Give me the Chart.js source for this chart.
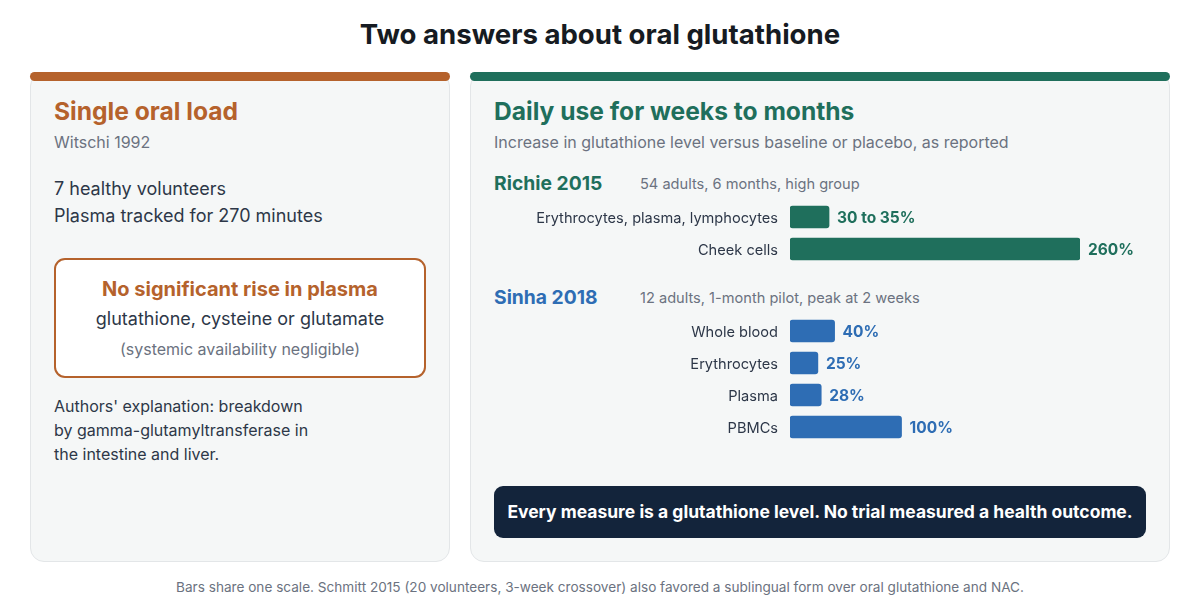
<!DOCTYPE html>
<html>
<head>
<meta charset="utf-8">
<script src="https://cdn.jsdelivr.net/npm/chart.js@4.4.1/dist/chart.umd.min.js"></script>
<style>
  html, body { margin: 0; padding: 0; background: #ffffff; }
  body { font-family: Inter, "Noto Sans", sans-serif; color: #2d3748; }
  #page { position: relative; width: 1200px; height: 612px; overflow: hidden; }
  .abs { position: absolute; white-space: nowrap; }
  h1 { position: absolute; left: 0; width: 1200px; top: 15px; margin: 0; text-align: center; font-size: 27.6px; font-weight: 700; color: #161b22; line-height: 38px; }
  .card { position: absolute; top: 72px; height: 490px; background: #f5f7f7; border: 1px solid #e3e6e8; border-radius: 14px; box-sizing: border-box; }
  .cap { position: absolute; top: 72px; height: 9px; border-radius: 5px; }
  .ctitle { font-size: 24.6px; font-weight: 700; line-height: 30px; }
  .csub { font-size: 16px; color: #6b7280; line-height: 22px; }
  .body18 { font-size: 18px; line-height: 27px; color: #2d3748; }
  .box { position: absolute; left: 54px; top: 258px; width: 372px; height: 120px; background: #fff; border: 2px solid #b5622c; border-radius: 11px; box-sizing: border-box; text-align: center; }
  .study { font-size: 19.3px; font-weight: 700; line-height: 24px; }
  .meta { font-size: 14.6px; color: #6b7280; line-height: 20px; }
  .dark { position: absolute; left: 494px; top: 486px; width: 652px; height: 52px; background: #13243b; border-radius: 9px; color: #fff; font-size: 17.5px; font-weight: 700; text-align: center; line-height: 52px; }
  .foot { position: absolute; left: 0; width: 1200px; top: 577px; text-align: center; font-size: 13.6px; color: #6b7280; line-height: 20px; }
  canvas { position: absolute; }
</style>
</head>
<body>
<div id="page">
  <h1>Two answers about oral glutathione</h1>

  <!-- Left card -->
  <div class="card" style="left:30px; width:420px;"></div>
  <div class="cap" style="left:30px; width:420px; background:#b5622c;"></div>
  <div class="abs ctitle" style="left:54px; top:96px; color:#b5622c;">Single oral load</div>
  <div class="abs csub" style="left:54px; top:131px;">Witschi 1992</div>
  <div class="abs body18" style="left:54px; top:175px;">7 healthy volunteers<br>Plasma tracked for 270 minutes</div>
  <div class="box">
    <div style="margin-top:15px; font-size:20px; font-weight:700; color:#b5622c; line-height:28px;">No significant rise in plasma</div>
    <div style="margin-top:3px; font-size:18px; color:#2d3748; line-height:26px;">glutathione, cysteine or glutamate</div>
    <div style="margin-top:6px; font-size:16px; color:#6b7280; line-height:22px;">(systemic availability negligible)</div>
  </div>
  <div class="abs" style="left:54px; top:394px; font-size:16px; line-height:24px; color:#2d3748;">Authors' explanation: breakdown<br>by gamma-glutamyltransferase in<br>the intestine and liver.</div>

  <!-- Right card -->
  <div class="card" style="left:470px; width:700px;"></div>
  <div class="cap" style="left:470px; width:700px; background:#1f6f5c;"></div>
  <div class="abs ctitle" style="left:494px; top:96px; color:#1f6f5c;">Daily use for weeks to months</div>
  <div class="abs csub" style="left:494px; top:131px;">Increase in glutathione level versus baseline or placebo, as reported</div>

  <div class="abs study" style="left:494px; top:171px; color:#1f6f5c;">Richie 2015</div>
  <div class="abs meta" style="left:640px; top:174px;">54 adults, 6 months, high group</div>

  <div class="abs study" style="left:494px; top:285px; color:#2e6db4;">Sinha 2018</div>
  <div class="abs meta" style="left:640px; top:288px;">12 adults, 1-month pilot, peak at 2 weeks</div>

  <canvas id="richie" width="656" height="104" style="left:494px; top:181px;"></canvas>
  <canvas id="sinha" width="656" height="168" style="left:494px; top:295px;"></canvas>

  <div class="dark">Every measure is a glutathione level. No trial measured a health outcome.</div>

  <div class="foot">Bars share one scale. Schmitt 2015 (20 volunteers, 3-week crossover) also favored a sublingual form over oral glutathione and NAC.</div>
</div>

<script>
// ---- Data ----
const richieCategories = ["Erythrocytes, plasma, lymphocytes", "Cheek cells"];
const richieValues = [35, 260];
const richieValueLabels = ["30 to 35%", "260%"];

const sinhaCategories = ["Whole blood", "Erythrocytes", "Plasma", "PBMCs"];
const sinhaValues = [40, 25, 28, 100];
const sinhaValueLabels = ["40%", "25%", "28%", "100%"];

const sharedMax = 260;

Chart.defaults.font.family = "Inter, 'Noto Sans', sans-serif";

const valueLabelPlugin = {
  id: 'valueLabels',
  afterDatasetsDraw(chart, args, opts) {
    const ctx = chart.ctx;
    const meta = chart.getDatasetMeta(0);
    ctx.save();
    ctx.font = "700 15.5px Inter, 'Noto Sans', sans-serif";
    ctx.fillStyle = opts.color;
    ctx.textAlign = 'left';
    ctx.textBaseline = 'middle';
    meta.data.forEach((bar, i) => {
      ctx.fillText(opts.labels[i], bar.x + 8, bar.y + 1);
    });
    ctx.restore();
  }
};

function makeChart(id, cats, vals, labels, color) {
  return new Chart(document.getElementById(id), {
    type: 'bar',
    data: {
      labels: cats,
      datasets: [{
        data: vals,
        backgroundColor: color,
        borderRadius: 3,
        borderSkipped: false,
        barThickness: 22
      }]
    },
    options: {
      indexAxis: 'y',
      responsive: false,
      animation: false,
      layout: { padding: { left: 0, right: 70, top: 0, bottom: 0 } },
      plugins: {
        legend: { display: false },
        tooltip: { enabled: false },
        valueLabels: { labels: labels, color: color }
      },
      scales: {
        x: { display: false, min: 0, max: sharedMax },
        y: {
          grid: { display: false, drawTicks: false },
          border: { display: false },
          ticks: { color: '#2d3748', font: { size: 14.6, lineHeight: '16px' }, padding: 12, labelOffset: 2 },
          afterFit(scale) { scale.width = 296; }
        }
      }
    },
    plugins: [valueLabelPlugin]
  });
}

makeChart('richie', richieCategories, richieValues, richieValueLabels, '#1f6f5c');
makeChart('sinha', sinhaCategories, sinhaValues, sinhaValueLabels, '#2e6db4');
</script>
</body>
</html>
